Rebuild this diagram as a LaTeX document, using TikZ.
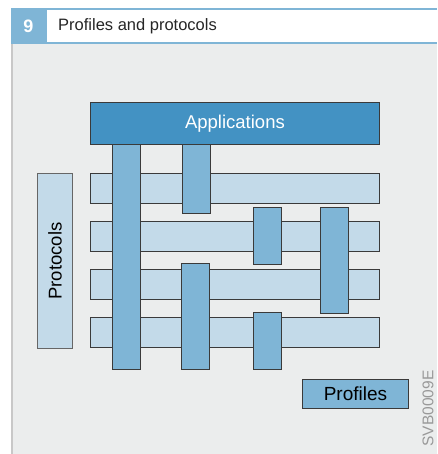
\documentclass[tikz,border=0pt]{standalone}
\usepackage{fontspec}
\setmainfont{Liberation Sans}
\usetikzlibrary{positioning}

\definecolor{frameblue}{HTML}{7FB5D6}
\definecolor{appblue}{HTML}{4392C3}
\definecolor{barlight}{HTML}{C3DAE9}
\definecolor{barmid}{HTML}{7FB5D6}
\definecolor{panelgray}{HTML}{EBEDED}
\definecolor{edgegray}{HTML}{C8C8C8}
\definecolor{linedark}{HTML}{3A3A3A}

\tikzset{
	box/.style={draw=linedark, line width=0.9pt, inner sep=0pt, anchor=north west},
	hbar/.style={box, fill=barlight, minimum width=289, minimum height=30},
	vbar/.style={box, fill=barmid, minimum width=28},
}

\begin{document}
\begin{tikzpicture}[x=1pt, y=-1pt]

		\useasboundingbox (0,0) rectangle (437,454);

		% panel and header
		\fill[panelgray] (11,43) rectangle (437,454);
		\draw[edgegray, line width=2pt] (12,43) -- (12,454);
		\fill[white] (47,10) rectangle (437,42);
		\draw[frameblue, line width=2pt] (11,9) -- (437,9);
		\draw[frameblue, line width=2pt] (11,43) -- (437,43);
		\fill[frameblue] (11,8) rectangle (47,44);
		\node[font=\fontsize{18}{18}\selectfont\bfseries, text=white] (num) at (28.5,26.5) {9};
		\node[font=\fontsize{16.5}{17}\selectfont, anchor=west, text=black!85, inner sep=0pt] (title) at (58,26.5) {Profiles and protocols};

		% top block
		\node[box, fill=appblue, minimum width=289, minimum height=42,
			font=\fontsize{18.5}{19}\selectfont, text=white] (apps) at (90,102) {Applications};

		% protocol layers
		\foreach \y [count=\i] in {173,221,269,317}
			\node[hbar] (h\i) at (90,\y) {};

		% profile columns: name/left/top/bottom
		\foreach \n/\x/\ya/\yb in {1/112/144/369, 2/182/144/213, 3/253/207/264,
				4/320/207/313, 5/181/263/369, 6/253/312/369} {
			\pgfmathsetmacro{\hh}{\yb-\ya}
			\node[vbar, minimum height=\hh] (v\n) at (\x,\ya) {};
		}

		% labels
		\node[box, draw=gray!80!black, fill=barlight, minimum width=35, minimum height=175] (proto) at (37,173) {};
		\node[rotate=90, font=\fontsize{18.5}{19}\selectfont] (protolabel) at (proto.center) {Protocols};
		\node[box, fill=barmid, minimum width=106, minimum height=29,
			font=\fontsize{19}{19}\selectfont] (profiles) at (302,379) {Profiles};
		\node[rotate=90, anchor=west, font=\fontsize{15.5}{16}\selectfont, text=black!40] (code) at (428,450) {SVB0009E};

	\end{tikzpicture}
\end{document}
